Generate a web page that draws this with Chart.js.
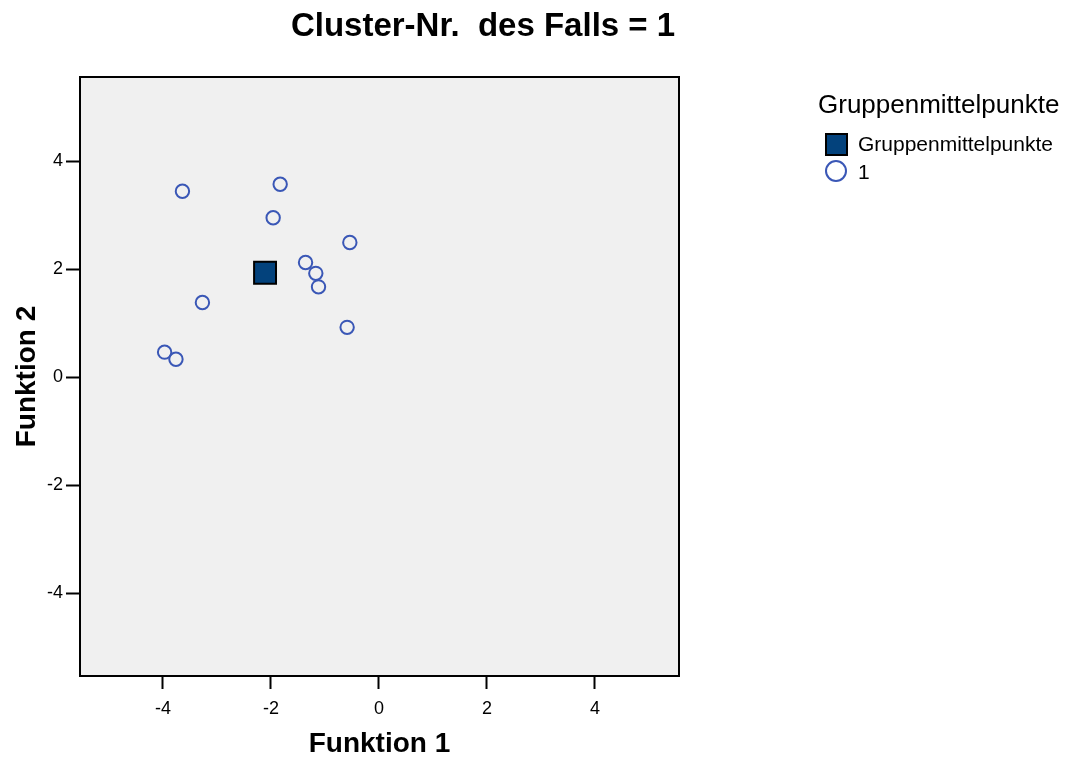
<!DOCTYPE html>
<html>
<head>
<meta charset="utf-8">
<script src="https://cdn.jsdelivr.net/npm/chart.js@4/dist/chart.umd.min.js"></script>
<style>
html,body{margin:0;padding:0;background:#fff;}
#wrap{width:1070px;height:761px;position:relative;}
</style>
</head>
<body>
<div id="wrap"><canvas id="c" width="1070" height="761"></canvas></div>
<script>
const chartTitle = "Cluster-Nr.  des Falls = 1";
const xTitle = "Funktion 1";
const yTitle = "Funktion 2";
const legendTitle = "Gruppenmittelpunkte";
const seriesNames = ["Gruppenmittelpunkte", "1"];
const tickValues = [-4, -2, 0, 2, 4];
const centroidX = [-2.11];
const centroidY = [1.93];
const caseX = [-3.64, -1.83, -1.96, -0.54, -1.36, -1.17, -1.12, -3.27, -0.59, -3.97, -3.76];
const caseY = [3.44, 3.57, 2.95, 2.49, 2.12, 1.92, 1.67, 1.38, 0.92, 0.46, 0.33];

const FONT = "'Liberation Sans', Arial, sans-serif";
const squareFill = '#03427c';
const circleStroke = '#3a57b6';

const deco = {
  id: 'deco',
  beforeDatasetsDraw(chart) {
    const {ctx, chartArea: a} = chart;
    ctx.save();
    ctx.fillStyle = '#f0f0f0';
    ctx.fillRect(a.left, a.top, a.right - a.left, a.bottom - a.top);
    ctx.restore();
  },
  afterDraw(chart) {
    const {ctx, chartArea: a} = chart;
    ctx.save();
    ctx.strokeStyle = '#000';
    ctx.lineWidth = 2;
    ctx.strokeRect(a.left, a.top, a.right - a.left, a.bottom - a.top);
    // titles
    ctx.fillStyle = '#000';
    ctx.textAlign = 'center';
    ctx.textBaseline = 'middle';
    ctx.font = 'bold 33px ' + FONT;
    ctx.fillText(chartTitle, 483, 27);
    ctx.font = 'bold 28px ' + FONT;
    ctx.fillText(xTitle, (a.left + a.right) / 2, 744);
    ctx.save();
    ctx.translate(27, (a.top + a.bottom) / 2);
    ctx.rotate(-Math.PI / 2);
    ctx.fillText(yTitle, 0, 0);
    ctx.restore();
    // legend
    ctx.textAlign = 'left';
    ctx.font = '26px ' + FONT;
    ctx.fillText(legendTitle, 818, 106);
    ctx.fillStyle = squareFill;
    ctx.fillRect(826, 134, 21, 21);
    ctx.strokeStyle = '#000';
    ctx.lineWidth = 2;
    ctx.strokeRect(826, 134, 21, 21);
    ctx.font = '21px ' + FONT;
    ctx.fillStyle = '#000';
    ctx.fillText(seriesNames[0], 858, 145);
    ctx.beginPath();
    ctx.arc(836, 171, 10, 0, Math.PI * 2);
    ctx.strokeStyle = circleStroke;
    ctx.lineWidth = 2;
    ctx.stroke();
    ctx.fillStyle = '#000';
    ctx.fillText(seriesNames[1], 858, 173);
    ctx.restore();
  }
};

const fixTicks = (scale) => { scale.ticks = tickValues.map(v => ({value: v})); };

new Chart(document.getElementById('c'), {
  type: 'scatter',
  data: {
    datasets: [
      {
        label: seriesNames[1],
        data: caseX.map((x, i) => ({x: x, y: caseY[i]})),
        pointStyle: 'circle',
        pointRadius: 6.7,
        pointHoverRadius: 6.7,
        borderColor: circleStroke,
        backgroundColor: 'rgba(0,0,0,0)',
        pointBorderWidth: 2,
        borderWidth: 2
      },
      {
        label: seriesNames[0],
        data: centroidX.map((x, i) => ({x: x, y: centroidY[i]})),
        pointStyle: 'rect',
        pointRadius: 15.5,
        pointHoverRadius: 15.5,
        backgroundColor: squareFill,
        borderColor: '#000',
        pointBorderWidth: 2,
        borderWidth: 2
      }
    ]
  },
  options: {
    responsive: false,
    animation: false,
    events: [],
    layout: {padding: {left: 0, top: 77, right: 391, bottom: 45}},
    plugins: {legend: {display: false}, title: {display: false}, tooltip: {enabled: false}},
    scales: {
      x: {
        type: 'linear', min: -5.537, max: 5.556,
        afterBuildTicks: fixTicks,
        afterFit: (s) => { s.height = 40; },
        grid: {drawOnChartArea: false, drawTicks: true, tickLength: 13, tickWidth: 2, color: '#000'},
        border: {display: false},
        ticks: {color: '#000', font: {family: FONT, size: 18}, padding: 9, maxRotation: 0, autoSkip: false, callback: v => String(v)}
      },
      y: {
        type: 'linear', min: -5.537, max: 5.556,
        afterBuildTicks: fixTicks,
        afterFit: (s) => { s.width = 80; },
        grid: {drawOnChartArea: false, drawTicks: true, tickLength: 14, tickWidth: 2, color: '#000'},
        border: {display: false},
        ticks: {color: '#000', font: {family: FONT, size: 18}, padding: 3, callback: v => String(v)}
      }
    }
  },
  plugins: [deco]
});
</script>
</body>
</html>
